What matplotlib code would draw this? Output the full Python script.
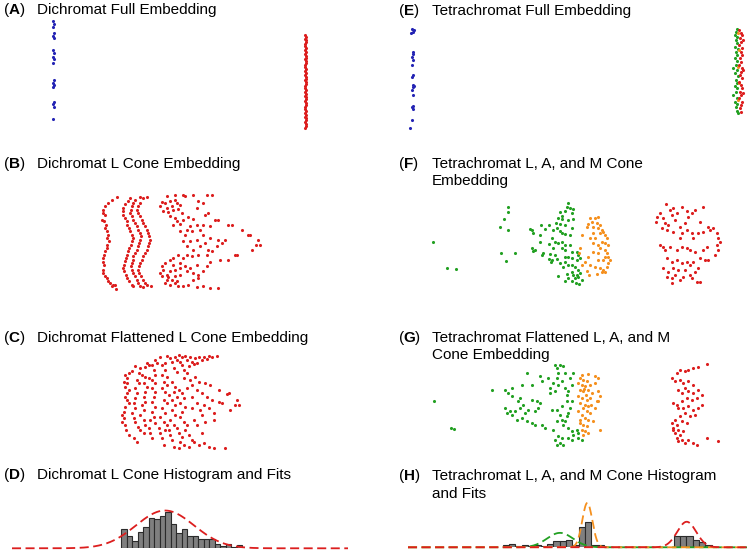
import numpy as np
import matplotlib

matplotlib.use("Agg")
import matplotlib.pyplot as plt

plt.rcParams["font.family"] = ["Liberation Sans", "DejaVu Sans"]
plt.rcParams["mathtext.fontset"] = "custom"
plt.rcParams["mathtext.rm"] = "Liberation Sans"
plt.rcParams["mathtext.bf"] = "Liberation Sans:bold"

RED = "#dc1e1e"
BLUE = "#2424b4"
GREEN = "#22a022"
ORANGE = "#f5901e"

# ---- embedding coordinates (panel units, y downwards) ----
a_blue = [(160, 62), (161, 72), (160, 82), (161, 100), (160, 108), (162, 115), (160, 150),
          (161, 160), (160, 170), (162, 178), (160, 188), (161, 240), (160, 248), (162, 255),
          (160, 262), (161, 305), (160, 312), (162, 320), (160, 358)]
a_red = [(916, 105), (918, 110), (915, 116), (917, 121), (919, 127), (916, 133), (914, 139),
         (918, 144), (916, 150), (919, 155), (915, 161), (917, 167), (918, 173), (915, 178),
         (917, 184), (919, 190), (916, 196), (914, 201), (918, 207), (916, 213), (919, 218),
         (915, 224), (917, 230), (918, 236), (915, 241), (917, 247), (919, 252), (916, 258),
         (914, 264), (918, 270), (916, 275), (919, 281), (915, 287), (917, 292), (918, 298),
         (915, 304), (917, 310), (919, 315), (916, 321), (914, 327), (918, 332), (916, 338),
         (919, 344), (915, 350), (917, 355), (918, 361), (915, 367), (917, 372), (919, 378),
         (916, 385)]

e_blue = [(125, 88), (132, 90), (128, 95), (122, 100), (130, 155), (128, 162), (125, 170),
          (130, 180), (125, 195), (128, 225), (125, 230), (130, 255), (131, 258), (128, 262),
          (125, 270), (130, 285), (128, 318), (125, 322), (130, 328), (125, 360), (120, 385)]
e_green = [(1100, 88), (1098, 95), (1095, 105), (1102, 112), (1097, 120), (1100, 130),
           (1095, 140), (1103, 148), (1098, 155), (1100, 165), (1095, 175), (1102, 182),
           (1097, 195), (1090, 205), (1100, 210), (1095, 220), (1103, 228), (1098, 240),
           (1100, 250), (1095, 258), (1102, 265), (1097, 275), (1090, 285), (1100, 295),
           (1095, 305), (1102, 312), (1098, 322), (1100, 332), (1104, 340)]
e_orange = [(1105, 100), (1106, 150), (1104, 200), (1106, 250), (1105, 300)]
e_red = [(1108, 90), (1112, 98), (1115, 105), (1110, 115), (1118, 120), (1113, 125),
         (1108, 135), (1115, 145), (1112, 155), (1117, 165), (1110, 175), (1114, 185),
         (1108, 195), (1116, 205), (1118, 210), (1112, 215), (1110, 225), (1115, 235),
         (1108, 245), (1113, 255), (1117, 265), (1110, 275), (1118, 280), (1114, 285),
         (1108, 295), (1115, 305), (1112, 315), (1110, 325), (1114, 335)]

b_red = [
    (80, 28), (65, 35), (55, 45), (45, 55), (40, 65), (38, 75), (45, 80), (35, 95), (42, 100),
    (48, 110), (45, 120), (50, 130), (55, 140), (50, 150), (58, 160), (52, 170), (50, 180),
    (45, 190), (42, 200), (40, 210), (38, 222), (42, 232), (38, 245), (40, 255), (45, 265),
    (50, 270), (55, 278), (60, 285), (70, 290), (75, 292), (65, 295), (78, 303),
    (120, 30), (115, 40), (105, 48), (100, 60), (98, 70), (100, 80), (105, 90), (110, 100),
    (112, 110), (118, 120), (120, 130), (125, 140), (128, 150), (125, 160), (122, 170),
    (118, 180), (115, 190), (110, 200), (108, 210), (105, 220), (102, 230), (100, 240),
    (103, 250), (108, 260), (112, 270), (118, 280), (125, 290), (130, 295),
    (135, 35), (130, 45), (125, 55), (122, 65), (120, 75), (125, 85), (130, 95), (135, 105),
    (140, 115), (145, 125), (150, 135), (152, 145), (150, 155), (148, 165), (145, 175),
    (140, 185), (135, 195), (130, 205), (128, 215), (125, 225), (122, 235), (125, 245),
    (130, 255), (135, 265), (140, 275), (145, 285), (150, 295),
    (150, 28), (160, 30), (170, 28), (150, 45), (145, 55), (142, 65), (145, 75), (150, 85),
    (155, 95), (160, 105), (165, 115), (170, 125), (175, 135), (178, 145), (180, 155),
    (178, 165), (175, 175), (170, 185), (165, 195), (160, 205), (155, 215), (150, 225),
    (148, 235), (145, 245), (148, 255), (152, 265), (158, 275), (165, 285), (172, 292),
    (182, 293), (160, 298),
    (230, 25), (255, 22), (280, 22), (285, 25), (310, 22), (350, 22), (365, 22), (215, 42),
    (225, 45), (240, 40), (255, 35), (262, 45), (270, 50), (245, 55), (230, 60), (210, 55),
    (220, 70), (235, 72), (250, 65), (265, 62), (275, 75), (240, 85), (255, 90), (260, 100),
    (250, 110), (270, 108), (280, 95), (295, 88), (310, 92), (320, 60), (325, 40), (340, 45),
    (345, 80), (355, 75), (320, 110), (300, 115), (290, 125), (270, 130), (285, 140),
    (305, 130), (330, 125), (340, 110), (360, 115), (375, 95), (385, 95), (415, 110),
    (425, 110), (455, 125), (475, 140), (480, 140), (505, 155), (498, 172), (510, 172),
    (485, 185), (440, 200), (435, 202), (415, 215), (390, 215), (360, 222), (350, 200),
    (365, 190), (380, 175), (395, 165), (405, 155), (385, 155), (360, 150), (340, 140),
    (320, 155), (300, 160), (280, 160), (290, 175), (310, 185), (330, 175), (345, 165),
    (355, 185), (325, 200), (305, 205), (290, 200), (280, 210), (265, 200), (250, 210),
    (270, 225), (250, 230), (240, 215), (225, 225), (215, 235), (220, 245), (210, 255),
    (215, 265), (230, 260), (240, 250), (255, 245), (270, 240), (285, 235), (300, 240),
    (310, 255), (325, 260), (340, 250), (350, 235), (320, 230), (290, 250), (270, 260),
    (255, 265), (245, 275), (230, 275), (225, 285), (240, 290), (255, 285), (265, 295),
    (280, 295), (295, 290), (310, 275), (325, 270), (320, 298), (340, 295), (360, 300),
    (385, 300), (235, 268), (262, 278)]

f_green = [
    (25, 140), (65, 218), (93, 222), (248, 35), (250, 50), (238, 72), (225, 97), (250, 105),
    (228, 175), (270, 173), (243, 198),
    (430, 25), (425, 35), (435, 40), (445, 42), (420, 48), (440, 55), (405, 50), (410, 62),
    (398, 68), (412, 72), (428, 75), (445, 72), (392, 85), (405, 88), (420, 90), (440, 100),
    (395, 100), (405, 108), (410, 115), (420, 118), (435, 120), (348, 90), (360, 102),
    (372, 90), (385, 105), (315, 103), (322, 105), (325, 115), (345, 120), (382, 128),
    (390, 140), (400, 145), (410, 140), (420, 150), (435, 150), (345, 140), (372, 148),
    (385, 160), (410, 160), (420, 165), (440, 170), (455, 170), (320, 160), (325, 168),
    (330, 165), (350, 180), (355, 175), (375, 178), (390, 180), (380, 195), (395, 192),
    (405, 205), (420, 185), (430, 185), (440, 190), (455, 195), (460, 180), (465, 190),
    (420, 200), (430, 210), (440, 210), (415, 215), (450, 215), (460, 225), (440, 230),
    (425, 238), (445, 240), (455, 240), (465, 235), (400, 242), (430, 250), (450, 250),
    (460, 245), (470, 255), (452, 265), (462, 268), (420, 258), (440, 258), (372, 193),
    (378, 200)]
f_orange = [
    (495, 70), (510, 68), (520, 65), (500, 80), (515, 85), (490, 88), (505, 95), (485, 95),
    (525, 90), (520, 100), (530, 105), (535, 110), (525, 115), (505, 115), (510, 130),
    (495, 130), (540, 120), (545, 130), (530, 140), (540, 145), (548, 150), (520, 150),
    (525, 160), (540, 165), (545, 175), (550, 185), (555, 195), (540, 185), (535, 195),
    (520, 175), (505, 170), (490, 185), (480, 200), (495, 210), (510, 215), (525, 220),
    (535, 225), (545, 215), (550, 205), (530, 230), (540, 230), (485, 228), (492, 240),
    (515, 238), (470, 120), (465, 160), (470, 210), (462, 175), (505, 145), (520, 195)]
f_red = [
    (723, 27), (705, 53), (695, 65), (693, 80), (715, 70), (735, 45), (745, 40), (755, 55),
    (770, 35), (785, 47), (810, 45), (835, 35), (720, 85), (730, 90), (740, 60), (750, 75),
    (765, 95), (780, 85), (790, 65), (800, 55), (825, 80), (710, 100), (725, 105), (745, 110),
    (770, 115), (785, 105), (800, 113), (805, 130), (820, 115), (835, 110), (850, 95),
    (855, 105), (865, 100), (875, 115), (880, 130), (885, 140), (875, 150), (880, 165),
    (870, 180), (850, 195), (840, 195), (825, 190), (810, 170), (795, 165), (785, 160),
    (770, 155), (755, 165), (735, 155), (715, 155), (720, 165), (725, 190), (740, 200),
    (755, 195), (770, 205), (785, 200), (795, 210), (805, 200), (820, 220), (810, 230),
    (795, 240), (780, 225), (760, 225), (745, 220), (730, 230), (715, 220), (725, 245),
    (740, 250), (750, 240), (765, 255), (740, 265), (775, 245), (815, 260), (825, 260),
    (705, 150), (765, 130), (835, 165), (845, 155), (800, 250)]

c_red = [
    (145, 22), (165, 18), (175, 25), (190, 20), (200, 15), (210, 22), (220, 18), (235, 20),
    (250, 25), (260, 22), (275, 20), (290, 18), (300, 20), (315, 18), (180, 35), (195, 30),
    (205, 35), (225, 30), (240, 35), (255, 38), (270, 30), (285, 28), (210, 45), (230, 48),
    (245, 42), (160, 40), (150, 45), (135, 40), (120, 45), (105, 38), (100, 50), (85, 55),
    (70, 48), (60, 62), (50, 70), (40, 75), (45, 85), (35, 95), (45, 100), (40, 110),
    (50, 120), (45, 130), (40, 140), (45, 150), (50, 160), (40, 170), (35, 185), (30, 195),
    (35, 205), (30, 215), (38, 225), (42, 240), (50, 255), (65, 265), (75, 275), (80, 70),
    (90, 75), (75, 90), (80, 100), (70, 115), (75, 130), (70, 145), (65, 160), (70, 175),
    (60, 190), (65, 205), (70, 215), (78, 230), (85, 240), (95, 250), (100, 80), (110, 85),
    (95, 100), (105, 110), (100, 125), (95, 140), (100, 155), (90, 165), (95, 180), (85, 195),
    (95, 210), (100, 225), (110, 235), (115, 250), (120, 265), (125, 60), (130, 75),
    (120, 90), (130, 100), (120, 115), (130, 125), (125, 140), (120, 155), (130, 170),
    (120, 185), (125, 200), (115, 210), (130, 220), (140, 235), (145, 250), (150, 265),
    (160, 60), (150, 75), (165, 80), (155, 95), (165, 105), (150, 115), (160, 125),
    (170, 135), (155, 150), (165, 160), (150, 175), (160, 190), (145, 200), (155, 215),
    (165, 225), (170, 240), (175, 255), (180, 270), (185, 55), (195, 65), (180, 95),
    (190, 110), (185, 125), (200, 120), (195, 140), (180, 150), (190, 165), (180, 180),
    (190, 195), (175, 210), (185, 225), (195, 235), (200, 250), (210, 262), (205, 275),
    (215, 60), (225, 70), (215, 85), (235, 90), (240, 105), (225, 115), (210, 130),
    (215, 145), (205, 160), (220, 170), (210, 185), (205, 200), (215, 215), (225, 225),
    (220, 240), (230, 255), (240, 270), (250, 80), (260, 95), (280, 100), (295, 105),
    (255, 120), (270, 130), (240, 140), (285, 140), (300, 150), (255, 160), (275, 165),
    (240, 175), (265, 180), (290, 175), (305, 190), (270, 195), (245, 210), (255, 225),
    (280, 215), (305, 210), (320, 120), (345, 132), (350, 130), (375, 150), (380, 165),
    (370, 165), (355, 180), (330, 160), (320, 155), (245, 275), (260, 285), (275, 280),
    (290, 290), (305, 295), (340, 295), (230, 290), (215, 285), (155, 285), (185, 290),
    (200, 295), (270, 250), (160, 240), (110, 45), (130, 30)]

g_green = [
    (28, 130), (78, 210), (88, 212), (200, 97), (240, 95), (262, 90), (250, 105), (290, 80),
    (320, 80), (305, 45), (345, 55), (350, 70), (370, 60), (390, 20), (395, 30), (405, 22),
    (415, 25), (420, 45), (400, 45), (395, 60), (385, 75), (375, 90), (390, 100), (375, 105),
    (400, 80), (410, 70), (420, 90), (425, 110), (430, 100), (435, 60), (440, 80), (445, 45),
    (260, 115), (285, 120), (280, 130), (295, 140), (320, 125), (335, 130), (345, 135),
    (340, 150), (330, 160), (310, 155), (300, 165), (285, 150), (270, 160), (240, 150),
    (255, 160), (245, 165), (260, 170), (275, 185), (290, 180), (305, 190), (320, 195),
    (330, 200), (350, 200), (360, 210), (385, 215), (395, 190), (410, 185), (420, 190),
    (425, 175), (430, 165), (435, 150), (440, 130), (425, 130), (410, 145), (395, 155),
    (380, 155), (405, 170), (415, 200), (430, 210), (440, 220), (445, 230), (455, 215),
    (460, 240), (440, 245), (430, 240), (410, 240), (400, 235), (390, 245), (405, 255),
    (415, 260), (395, 260), (460, 225), (470, 245)]
g_orange = [
    (470, 50), (490, 48), (510, 55), (520, 60), (465, 60), (475, 65), (485, 70), (460, 75),
    (470, 80), (480, 85), (495, 80), (510, 75), (465, 95), (475, 100), (490, 95), (500, 105),
    (520, 100), (525, 115), (515, 130), (460, 115), (470, 120), (485, 125), (495, 120),
    (465, 135), (480, 140), (490, 145), (475, 150), (460, 160), (485, 160), (495, 165),
    (470, 170), (480, 180), (490, 185), (505, 190), (465, 195), (475, 200), (485, 205),
    (470, 215), (480, 220), (490, 225), (475, 230), (525, 215), (520, 130), (510, 150),
    (465, 185), (482, 110), (497, 140), (478, 92)]
g_red = [
    (845, 18), (820, 28), (805, 30), (790, 35), (780, 40), (765, 35), (755, 45), (740, 60),
    (750, 70), (765, 65), (775, 75), (790, 70), (805, 80), (780, 90), (760, 95), (770, 105),
    (790, 100), (805, 105), (820, 95), (830, 110), (815, 120), (800, 125), (785, 120),
    (770, 130), (755, 140), (745, 135), (760, 150), (775, 150), (790, 145), (805, 155),
    (820, 150), (830, 140), (810, 170), (795, 175), (780, 165), (765, 175), (750, 185),
    (740, 195), (755, 200), (770, 190), (785, 195), (760, 215), (745, 215), (750, 225),
    (765, 230), (775, 220), (755, 240), (760, 250), (780, 255), (790, 245), (805, 255),
    (815, 260), (845, 240), (880, 250), (770, 245), (745, 210)]

# ---- histograms (bin start, bin width, counts) and gaussian fits (mu, sigma, amp) ----
d_bin_start, d_bin_width = 121.0, 5.5
d_counts = [17, 11, 7, 15, 19, 27, 26, 29, 33, 22, 14, 17, 11, 11, 8, 8, 8, 4, 2, 4, 1, 3]
d_fit = (165.0, 29.0, 34.0)

h_bin_start, h_bin_width = 502.7, 6.33
h_counts = [2, 3, 1, 2, 1, 2, 1, 3, 6, 6, 7, 2, 18, 23, 2, 2,
            0, 0, 0, 0, 0, 0, 0, 0, 0, 0, 0,
            10, 10, 10, 7, 5, 2]
h_fit_green = (560.0, 13.0, 13.0)
h_fit_orange = (587.3, 5.0, 40.0)
h_fit_red = (686.7, 9.5, 23.0)

W, H = 747, 551
fig = plt.figure(figsize=(W / 100, H / 100), dpi=100)


def panel(ox, oy, w, h):
    ax = fig.add_axes([ox / W, 1 - (oy + h) / H, w / W, h / H])
    ax.set_xlim(0, 3 * w)
    ax.set_ylim(3 * h, 0)
    ax.axis("off")
    return ax


def dots(ax, pts, color):
    p = np.array(pts, dtype=float)
    ax.scatter(p[:, 0], p[:, 1], s=5, color=color, linewidths=0, clip_on=False)


def hist_panel(x0, x1, base):
    ax = fig.add_axes([x0 / W, 1 - base / H, (x1 - x0) / W, 50 / H])
    ax.set_xlim(x0, x1)
    ax.set_ylim(0, 45)
    ax.axis("off")
    return ax


def fit(ax, params, xr, color):
    mu, sig, amp = params
    x = np.linspace(xr[0], xr[1], 600)
    ax.plot(x, amp * np.exp(-0.5 * ((x - mu) / sig) ** 2), color=color, lw=1.3,
            ls=(0, (5, 2.5)), clip_on=False)


def title(x, y, letter, lines):
    fig.text(x / W, 1 - y / H, r"($\mathbf{%s}$)" % letter, fontsize=11, va="baseline")
    for i, line in enumerate(lines):
        fig.text((x + 34) / W, 1 - (y + 17.5 * i) / H, line, fontsize=11, va="baseline")


title(3, 14, "A", ["Dichromat Full Embedding"])
title(398, 15, "E", ["Tetrachromat Full Embedding"])
title(3, 168, "B", ["Dichromat L Cone Embedding"])
title(398, 168, "F", ["Tetrachromat L, A, and M Cone", "Embedding"])
title(3, 342, "C", ["Dichromat Flattened L Cone Embedding"])
title(398, 342, "G", ["Tetrachromat Flattened L, A, and M", "Cone Embedding"])
title(3, 479, "D", ["Dichromat L Cone Histogram and Fits"])
title(398, 480, "H", ["Tetrachromat L, A, and M Cone Histogram", "and Fits"])

ax = panel(0, 0, 370, 140)
dots(ax, a_blue, BLUE)
dots(ax, a_red, RED)

ax = panel(370, 0, 377, 140)
dots(ax, e_blue, BLUE)
dots(ax, e_green, GREEN)
dots(ax, e_orange, ORANGE)
dots(ax, e_red, RED)

ax = panel(90, 188, 180, 108)
dots(ax, b_red, RED)

ax = panel(425, 195, 310, 100)
dots(ax, f_green, GREEN)
dots(ax, f_orange, ORANGE)
dots(ax, f_red, RED)

ax = panel(112, 350, 140, 102)
dots(ax, c_red, RED)

ax = panel(425, 358, 310, 92)
dots(ax, g_green, GREEN)
dots(ax, g_orange, ORANGE)
dots(ax, g_red, RED)

ax = hist_panel(0, 370, 548.3)
edges = d_bin_start + d_bin_width * np.arange(len(d_counts))
ax.bar(edges, d_counts, width=d_bin_width, align="edge", color="#7f7f7f",
       edgecolor="#2b2b2b", linewidth=0.8)
fit(ax, d_fit, (12, 348), RED)

ax = hist_panel(370, 747, 547.3)
edges = h_bin_start + h_bin_width * np.arange(len(h_counts))
ax.bar(edges, h_counts, width=h_bin_width, align="edge", color="#7f7f7f",
       edgecolor="#2b2b2b", linewidth=0.8)
fit(ax, h_fit_green, (408, 747), GREEN)
fit(ax, h_fit_orange, (408, 747), ORANGE)
fit(ax, h_fit_red, (408, 747), RED)

fig.savefig("out.png", dpi=100)
